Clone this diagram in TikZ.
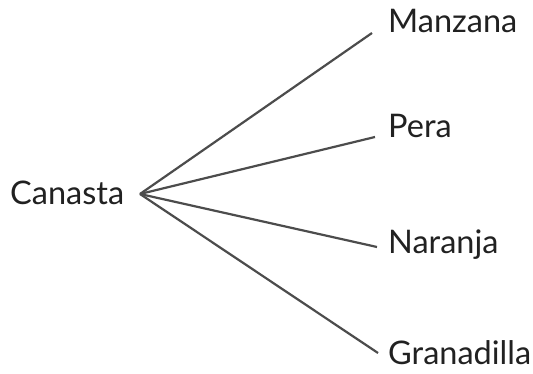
\documentclass[tikz,border=0pt]{standalone}
\usepackage{fontspec}
\setmainfont{Lato}
\usepackage{tikz}

\begin{document}
\begin{tikzpicture}[x=1pt,y=1pt,
		word/.style={anchor=base west,inner sep=0pt,text=black!87,font=\fontsize{32.5}{38}\selectfont},
		branch/.style={line width=2.2pt,draw=black!70}]
		% Frame
		\useasboundingbox (0,0) rectangle (533,374);
		
		% Root word and vertex
		\node[word] (canasta) at (10,169) {Canasta};
		\coordinate (V) at (140,180);
		
		% Fruit words
		\node[word] (manzana) at (388,341) {Manzana};
		\node[word] (pera) at (388,236) {Pera};
		\node[word] (naranja) at (388,120) {Naranja};
		\node[word] (granadilla) at (388,9) {Granadilla};
		
		% Branch ends (just left of the words)
		\coordinate (EM) at (372,341);
		\coordinate (EP) at (375,237);
		\coordinate (EN) at (377,127);
		\coordinate (EG) at (378,21);
		
		% Branches
		\draw[branch] (V) -- (EM);
		\draw[branch] (V) -- (EP);
		\draw[branch] (V) -- (EN);
		\draw[branch] (V) -- (EG);
	\end{tikzpicture}
\end{document}
